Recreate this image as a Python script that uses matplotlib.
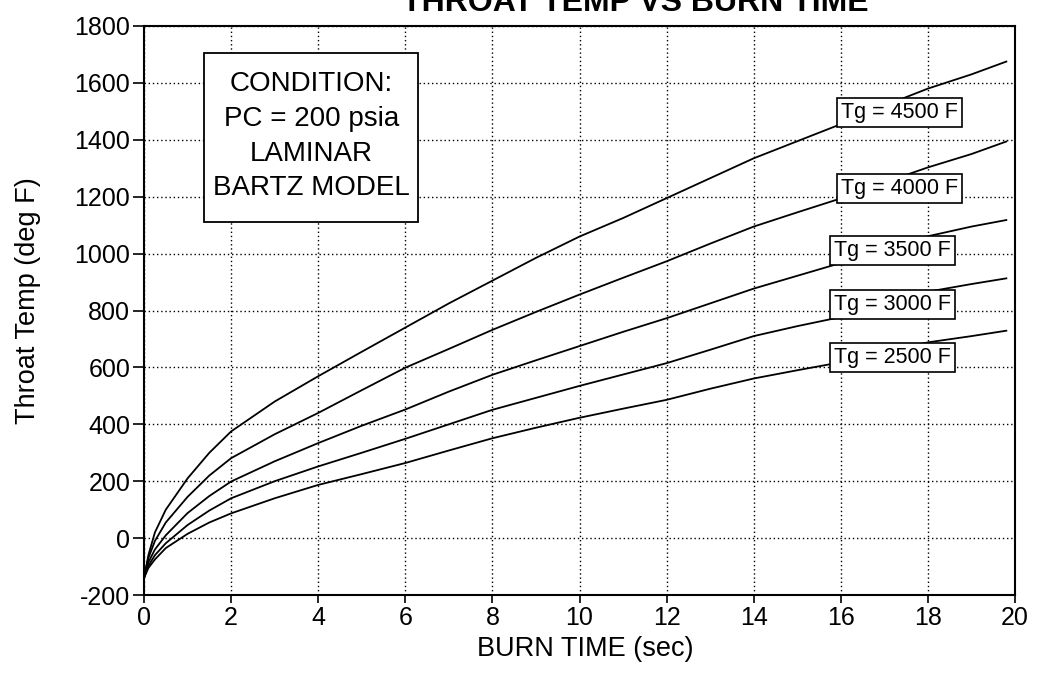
import numpy as np
import matplotlib
matplotlib.use("Agg")
import matplotlib.pyplot as plt
from matplotlib.patches import Rectangle

plt.rcParams["font.family"] = ["Liberation Sans", "DejaVu Sans"]
plt.rcParams["axes.unicode_minus"] = False

# burn time (sec)
t = [0, 0.1, 0.25, 0.5, 1, 1.5, 2, 3, 4, 5, 6, 7, 8, 9, 10,
     11, 12, 13, 14, 15, 16, 17, 18, 19, 19.8]

# throat temperature (deg F), one list per gas temperature
tg_4500 = [-140, -60, 20, 100, 210, 300, 375, 480, 569, 655, 740, 825, 905, 985, 1060,
           1125, 1195, 1265, 1335, 1395, 1455, 1520, 1580, 1630, 1675]
tg_4000 = [-140, -70, -10, 55, 145, 220, 281, 365, 440, 520, 599, 665, 732, 795, 856,
           915, 973, 1035, 1095, 1145, 1194, 1250, 1303, 1350, 1394]
tg_3500 = [-140, -85, -40, 10, 88, 148, 199, 270, 334, 395, 452, 515, 574, 625, 675,
           725, 773, 825, 877, 922, 967, 1015, 1061, 1095, 1118]
tg_3000 = [-140, -97, -60, -18, 46, 97, 140, 200, 252, 300, 349, 400, 451, 493, 535,
           575, 615, 662, 710, 745, 777, 820, 866, 893, 913]
tg_2500 = [-140, -105, -75, -35, 15, 55, 87, 140, 187, 225, 264, 308, 351, 388, 423,
           455, 486, 525, 561, 590, 618, 655, 688, 710, 729]

series = [tg_4500, tg_4000, tg_3500, tg_3000, tg_2500]
labels = ["Tg = 4500 F", "Tg = 4000 F", "Tg = 3500 F", "Tg = 3000 F", "Tg = 2500 F"]
label_y = [1495, 1228, 1011, 822, 636]
label_x = [16.0, 16.0, 15.85, 15.85, 15.85]

condition = ["CONDITION:", "PC = 200 psia", "LAMINAR", "BARTZ MODEL"]

fig = plt.figure(figsize=(10.59, 6.75), dpi=100)
ax = fig.add_axes([0.136, 0.1185, 0.8225, 0.843])

for ys in series:
    ax.plot(t, ys, color="black", lw=1.3, zorder=3)

ax.set_xlim(0, 20)
ax.set_ylim(-200, 1800)
ax.set_xticks(np.arange(0, 21, 2))
ax.set_yticks(np.arange(-200, 1801, 200))
ax.tick_params(axis="both", labelsize=18, direction="out", width=1.2, color="black")
ax.tick_params(axis="y", length=8, pad=2)
ax.tick_params(axis="x", length=6, pad=2)
ax.grid(True, color="black", linestyle=(0, (1, 2)), linewidth=1.0)
ax.set_axisbelow(True)
for s in ax.spines.values():
    s.set_linewidth(1.5)

ax.set_xlabel("BURN TIME (sec)", fontsize=19.5)
ax.set_ylabel("Throat Temp (deg F)", fontsize=19.5)
ax.xaxis.set_label_coords(0.507, -0.072)
ax.yaxis.set_label_coords(-0.118, 0.517)

# curve labels
for lx, ly, txt in zip(label_x, label_y, labels):
    ax.text(lx, ly, txt, fontsize=15.5, ha="left", va="center", zorder=5,
            bbox=dict(boxstyle="square,pad=0.18", fc="white", ec="black", lw=1.2))

# condition box
ax.add_patch(Rectangle((1.38, 1111), 4.92, 594, fc="white", ec="black", lw=1.3, zorder=4))
for i, line in enumerate(condition):
    ax.text(3.84, 1595 - i * 122, line, fontsize=20, ha="center", va="center", zorder=5)

# title, cut off at the top edge in the scanned original
fig.text(0.6, 0.984, "THROAT TEMP VS BURN TIME", fontsize=23, fontweight="bold",
         ha="center", va="baseline")

fig.savefig("out.png", dpi=100)
